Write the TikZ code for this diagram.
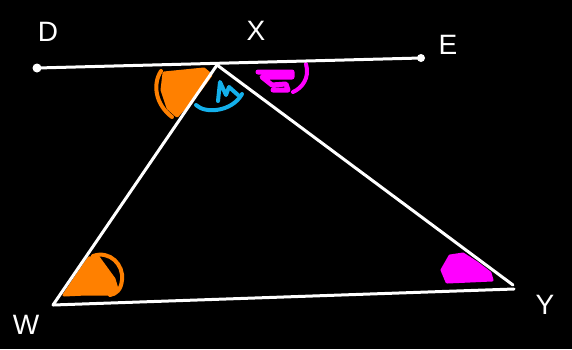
\documentclass[tikz,border=0pt]{standalone}
\usepackage{fontspec}
\setmainfont{Liberation Sans}
\definecolor{myorange}{RGB}{255,128,0}
\definecolor{myblue}{RGB}{20,176,235}
\definecolor{mymag}{RGB}{255,0,255}
\begin{document}
\begin{tikzpicture}[x=1pt,y=-1pt,
  seg/.style={white,line width=3pt,line cap=round},
  lbl/.style={white,font=\fontsize{28}{30}\selectfont,inner sep=0pt},
  orangefill/.style={fill=myorange,draw=myorange,line width=3pt,line join=round},
  magfill/.style={fill=mymag,draw=mymag,line width=3pt,line join=round},
  stroke/.style={line width=4pt,line cap=round,line join=round}]
\fill[black] (0,0) rectangle (572,349);
\useasboundingbox (0,0) rectangle (572,349);
\coordinate (D) at (37,68);
\coordinate (E) at (421,58);
\coordinate (X) at (217,65);
\coordinate (W) at (53,305);
\coordinate (Y) at (514,289);
\coordinate (Y2) at (513,285);
% angle marks
\path[orangefill] (164,73) -- (204,69) -- (211,75) -- (200,90) -- (188,104) -- (177,116) -- (168,108) -- (162,90) -- cycle;
\draw[myorange,stroke] (161,71) .. controls (152,85) and (156,105) .. (172,117);
\draw[myblue,stroke] (196,105) .. controls (205,114) and (232,112) .. (242,94);
\draw[myblue,stroke] (218,101) -- (220,82) -- (226,95) -- (229,87) -- (238,95);
\draw[mymag,line width=5pt,line cap=round,line join=round] (258,72) -- (292,72) -- (292,77) -- (262,77) -- (272,85) -- (286,84) -- (288,90) -- (273,90);
\draw[mymag,stroke] (306,64) .. controls (310,78) and (302,88) .. (293,92);
\path[orangefill] (64,295) -- (78,274) -- (89,258) -- (98,257) -- (106,268) -- (114,279) -- (117,289) -- (110,294) -- (86,294) -- cycle;
\draw[myorange,stroke] (93,256) .. controls (110,250) and (124,265) .. (122,280) .. controls (121,290) and (116,294) .. (110,295);
\path[magfill] (442,270) -- (450,256) -- (463,254) -- (477,263) -- (490,273) -- (492,280) -- (470,281) -- (447,282) -- cycle;
% lines
\draw[seg] (D) -- (E);
\draw[seg] (X) -- (W);
\draw[seg] (X) -- (Y2);
\draw[seg] (W) -- (Y);
\fill[white] (D) circle (4.5);
\fill[white] (E) circle (4);
% labels
\node[lbl] (lD) at (48,32) {D};
\node[lbl] (lX) at (256,31) {X};
\node[lbl] (lE) at (448,45) {E};
\node[lbl] (lW) at (26,325) {W};
\node[lbl] (lY) at (545,305) {Y};
\end{tikzpicture}
\end{document}
